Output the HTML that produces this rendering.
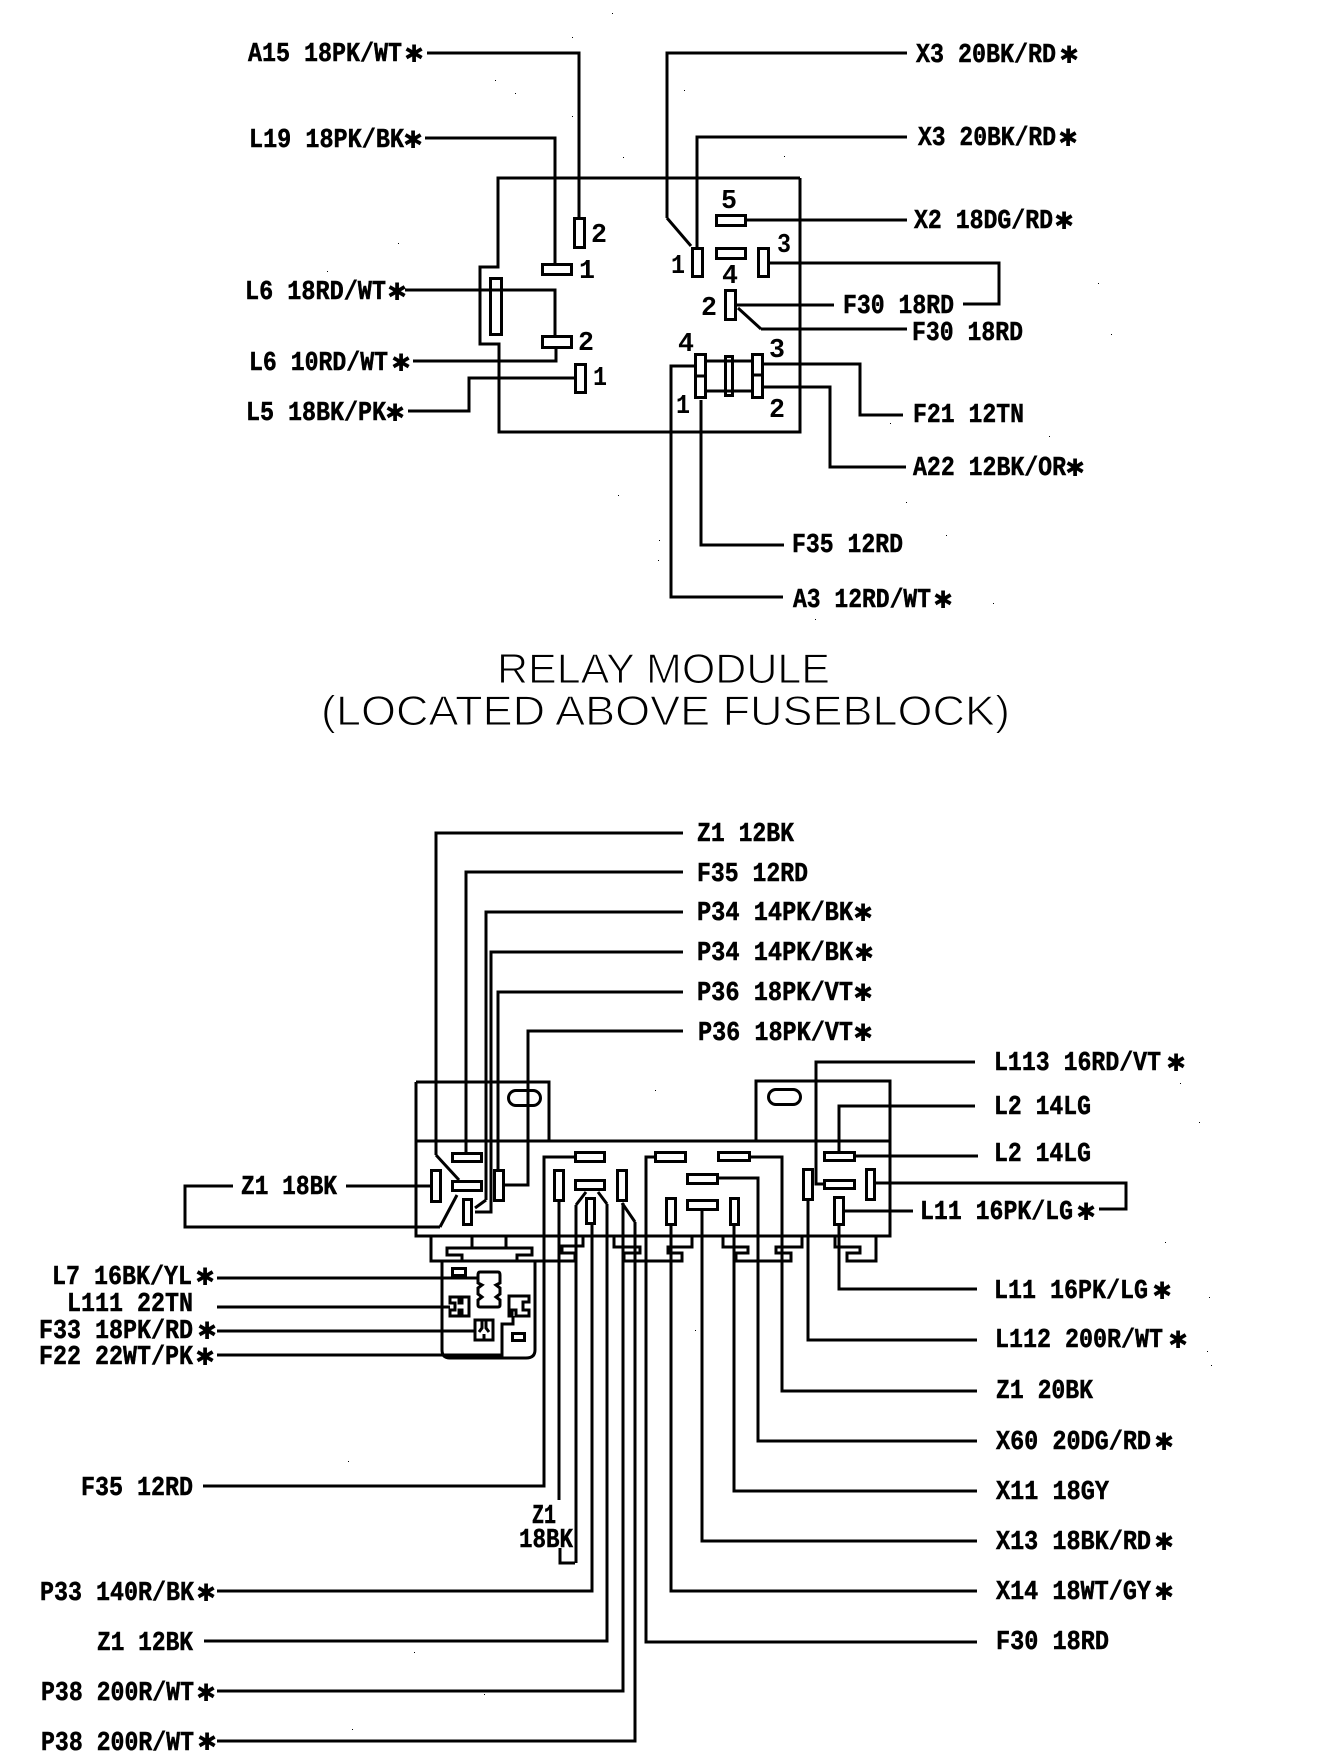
<!DOCTYPE html>
<html><head><meta charset="utf-8"><title>Relay Module</title>
<style>
html,body{margin:0;padding:0;background:#fff}
svg{display:block}
.w{fill:none;stroke:#000;stroke-width:3;stroke-linejoin:miter}
.t{font-family:"Liberation Mono",monospace;font-weight:700;font-size:27px;fill:#000;stroke:#000;stroke-width:.5}
.s{font-family:"DejaVu Sans",sans-serif;font-weight:700;font-size:24px;fill:#000}
.n{font-family:"Liberation Mono",monospace;font-weight:700;font-size:27px;fill:#000}
.h{font-family:"Liberation Sans",sans-serif;font-size:42px;fill:#000;stroke:#fff;stroke-width:1.1}
</style></head><body>
<svg xmlns="http://www.w3.org/2000/svg" width="1344" height="1758" viewBox="0 0 1344 1758">
<rect width="1344" height="1758" fill="#fff"/>
<g class="w" shape-rendering="crispEdges">
<!-- top module -->
<path d="M800 178H498V267H480V344H499V432H800V178"/>
<path d="M427 53H579V217M425 138H555V263M907 53H667V218M907 137H697V247M747 220H907M770 263H999V304H963M737 305H834M761 329H907M405 290H555V335M556 349V361H413M574 378H469V411H408"/>
<path d="M764 364H860V415H903M764 387H830V467H906M701 400V545H784M694 366H671V597H783M707 361H751M707 391H751"/>
<rect x="574.500" y="218.500" width="10" height="29"/>
<rect x="542.500" y="264.500" width="29" height="10"/>
<rect x="490.500" y="278.500" width="11" height="56"/>
<rect x="542.500" y="336.500" width="29" height="11"/>
<rect x="575.500" y="364.500" width="10" height="28"/>
<rect x="692.500" y="248.500" width="10" height="28"/>
<rect x="716.500" y="215.500" width="29" height="10"/>
<rect x="716.500" y="248.500" width="29" height="10"/>
<rect x="758.500" y="248.500" width="10" height="28"/>
<rect x="725.500" y="290.500" width="10" height="29"/>
<rect x="695.500" y="354.500" width="10" height="43"/>
<path d="M695 376H706"/>
<rect x="725.500" y="356.500" width="7" height="39"/>
<rect x="752.500" y="354.500" width="10" height="43"/>
<path d="M752 375H763"/>
<!-- lower block -->
<path d="M416 1082H549V1141M416 1082V1236H890V1081H756V1141M416 1141H890"/>
<path d="M683 833H436V1155M683 872H466V1152M683 912H486V1200M683 952H491V1212H475M683 992H498V1169M683 1031H528V1185H505"/>
<path d="M346 1186H430M233 1186H185V1227H440M203 1486H544V1157H574M217 1591H592V1225M204 1641H607V1204M217 1691H623V1203M217 1741H635V1222M977 1642H646V1157H654M575 1563H560V1548M576 1563V1205M559 1202V1500"/>
<path d="M671 1226V1591H977M702 1211V1541H977M734 1226V1491H977M719 1178H758V1441H977M751 1157H782V1391H977M808 1201V1340H977M839 1226V1289H977M839 1151V1106H975M856 1156H978M823 1184H816V1062H975M876 1183H1126V1209H1099M845 1211H913"/>
<path d="M217 1278H477M217 1307H450M217 1331H475M217 1355H502V1324H513V1316"/>
<path d="M431 1237V1261H575V1253H562V1246H583V1237M614 1237V1247H640V1253H624V1261H682V1253H668V1247H692V1237M723 1237V1247H748V1253H736V1261H791V1253H776V1247H802V1237M835 1237V1247H860V1253H847V1261H876V1236"/>
<path d="M462 1261V1255H447V1248H532V1255H517V1261M472 1237V1248M506 1237V1248"/>
<rect x="452.500" y="1153.500" width="29" height="8"/>
<rect x="452.500" y="1181.500" width="29" height="9"/>
<rect x="431.500" y="1170.500" width="9" height="31"/>
<rect x="494.500" y="1170.500" width="9" height="30"/>
<rect x="463.500" y="1199.500" width="8" height="25"/>
<rect x="575.500" y="1152.500" width="29" height="9"/>
<rect x="554.500" y="1170.500" width="9" height="30"/>
<rect x="575.500" y="1180.500" width="29" height="9"/>
<rect x="586.500" y="1198.500" width="8" height="25"/>
<rect x="617.500" y="1170.500" width="9" height="30"/>
<rect x="655.500" y="1152.500" width="30" height="9"/>
<rect x="666.500" y="1198.500" width="9" height="26"/>
<rect x="718.500" y="1152.500" width="31" height="8"/>
<rect x="687.500" y="1174.500" width="30" height="9"/>
<rect x="687.500" y="1200.500" width="30" height="9"/>
<rect x="730.500" y="1198.500" width="8" height="26"/>
<rect x="803.500" y="1169.500" width="9" height="30"/>
<rect x="824.500" y="1152.500" width="30" height="8"/>
<rect x="824.500" y="1180.500" width="30" height="8"/>
<rect x="866.500" y="1169.500" width="8" height="30"/>
<rect x="834.500" y="1197.500" width="9" height="27"/>
<rect x="452.500" y="1268.500" width="13" height="7"/>
<rect x="512.500" y="1333.500" width="12" height="7"/>
</g>
<g class="w">
<path d="M667 218L691 246M738 308L761 329"/>
<path d="M436 1155L459 1180M486 1200L475 1208M440 1227L457 1195M607 1204L598 1192M635 1222L622 1203M576 1205L586 1192"/>
<path d="M442 1261V1350Q442 1358 450 1358H526Q535 1358 535 1350V1261"/>
<rect x="508.500" y="1090.500" width="32" height="15" rx="7.500"/>
<rect x="768.500" y="1089.500" width="32" height="15" rx="7.500"/>
<path d="M480 1272H498Q500 1272 500 1275V1283L496 1285L500 1288V1294L496 1297L500 1300V1305Q500 1307 498 1307H480Q478 1307 478 1305V1300L482 1297L478 1294V1288L482 1285L478 1283V1275Q478 1272 480 1272Z"/>
<path d="M450 1297H469V1316H450V1310H455V1303H450Z"/>
<path d="M459 1297V1303H462V1297M459 1316V1310H462V1316"/>
<path d="M475 1320H493V1340H475ZM482 1320V1328L479 1332M486 1320V1328L489 1332M484 1340V1334"/>
<path d="M509 1296H529V1302H523V1310H529V1316H516V1310H512V1316H509Z"/>
</g>
<!-- labels -->
<g class="t" transform="translate(0,-1)">
<text x="248" y="62" textLength="154" lengthAdjust="spacingAndGlyphs">A15 18PK/WT</text>
<text x="249" y="148" textLength="155" lengthAdjust="spacingAndGlyphs">L19 18PK/BK</text>
<text x="245" y="300" textLength="141" lengthAdjust="spacingAndGlyphs">L6 18RD/WT</text>
<text x="249" y="371" textLength="139" lengthAdjust="spacingAndGlyphs">L6 10RD/WT</text>
<text x="246" y="421" textLength="140" lengthAdjust="spacingAndGlyphs">L5 18BK/PK</text>
<text x="916" y="63" textLength="140" lengthAdjust="spacingAndGlyphs">X3 20BK/RD</text>
<text x="918" y="146" textLength="138" lengthAdjust="spacingAndGlyphs">X3 20BK/RD</text>
<text x="914" y="229" textLength="139" lengthAdjust="spacingAndGlyphs">X2 18DG/RD</text>
<text x="843" y="314" textLength="111" lengthAdjust="spacingAndGlyphs">F30 18RD</text>
<text x="912" y="341" textLength="111" lengthAdjust="spacingAndGlyphs">F30 18RD</text>
<text x="913" y="423" textLength="111" lengthAdjust="spacingAndGlyphs">F21 12TN</text>
<text x="913" y="476" textLength="153" lengthAdjust="spacingAndGlyphs">A22 12BK/OR</text>
<text x="792" y="553" textLength="111" lengthAdjust="spacingAndGlyphs">F35 12RD</text>
<text x="793" y="608" textLength="138" lengthAdjust="spacingAndGlyphs">A3 12RD/WT</text>
<text x="697" y="842" textLength="97" lengthAdjust="spacingAndGlyphs">Z1 12BK</text>
<text x="697" y="882" textLength="111" lengthAdjust="spacingAndGlyphs">F35 12RD</text>
<text x="697" y="921" textLength="156" lengthAdjust="spacingAndGlyphs">P34 14PK/BK</text>
<text x="697" y="961" textLength="156" lengthAdjust="spacingAndGlyphs">P34 14PK/BK</text>
<text x="697" y="1001" textLength="156" lengthAdjust="spacingAndGlyphs">P36 18PK/VT</text>
<text x="698" y="1041" textLength="155" lengthAdjust="spacingAndGlyphs">P36 18PK/VT</text>
<text x="994" y="1071" textLength="167" lengthAdjust="spacingAndGlyphs">L113 16RD/VT</text>
<text x="994" y="1115" textLength="97" lengthAdjust="spacingAndGlyphs">L2 14LG</text>
<text x="994" y="1162" textLength="97" lengthAdjust="spacingAndGlyphs">L2 14LG</text>
<text x="920" y="1220" textLength="153" lengthAdjust="spacingAndGlyphs">L11 16PK/LG</text>
<text x="994" y="1299" textLength="154" lengthAdjust="spacingAndGlyphs">L11 16PK/LG</text>
<text x="995" y="1348" textLength="168" lengthAdjust="spacingAndGlyphs">L112 200R/WT</text>
<text x="996" y="1399" textLength="97" lengthAdjust="spacingAndGlyphs">Z1 20BK</text>
<text x="996" y="1450" textLength="155" lengthAdjust="spacingAndGlyphs">X60 20DG/RD</text>
<text x="996" y="1500" textLength="113" lengthAdjust="spacingAndGlyphs">X11 18GY</text>
<text x="996" y="1550" textLength="155" lengthAdjust="spacingAndGlyphs">X13 18BK/RD</text>
<text x="996" y="1600" textLength="155" lengthAdjust="spacingAndGlyphs">X14 18WT/GY</text>
<text x="996" y="1650" textLength="113" lengthAdjust="spacingAndGlyphs">F30 18RD</text>
<text x="241" y="1195" textLength="96" lengthAdjust="spacingAndGlyphs">Z1 18BK</text>
<text x="52" y="1285" textLength="140" lengthAdjust="spacingAndGlyphs">L7 16BK/YL</text>
<text x="67" y="1312" textLength="126" lengthAdjust="spacingAndGlyphs">L111 22TN</text>
<text x="39" y="1339" textLength="154" lengthAdjust="spacingAndGlyphs">F33 18PK/RD</text>
<text x="39" y="1365" textLength="154" lengthAdjust="spacingAndGlyphs">F22 22WT/PK</text>
<text x="81" y="1496" textLength="112" lengthAdjust="spacingAndGlyphs">F35 12RD</text>
<text x="40" y="1601" textLength="154" lengthAdjust="spacingAndGlyphs">P33 140R/BK</text>
<text x="97" y="1651" textLength="96" lengthAdjust="spacingAndGlyphs">Z1 12BK</text>
<text x="41" y="1701" textLength="153" lengthAdjust="spacingAndGlyphs">P38 200R/WT</text>
<text x="41" y="1751" textLength="153" lengthAdjust="spacingAndGlyphs">P38 200R/WT</text>
<text x="532" y="1524" textLength="24" lengthAdjust="spacingAndGlyphs">Z1</text>
<text x="519" y="1548" textLength="54" lengthAdjust="spacingAndGlyphs">18BK</text>
</g>
<g class="s" transform="translate(-1,1)">
<text x="405" y="61">✱</text><text x="404" y="147">✱</text><text x="388" y="299">✱</text><text x="392" y="370">✱</text><text x="386" y="420">✱</text>
<text x="1060" y="62">✱</text><text x="1059" y="145">✱</text><text x="1055" y="228">✱</text><text x="1066" y="475">✱</text><text x="934" y="607">✱</text>
<text x="854" y="920">✱</text><text x="855" y="960">✱</text><text x="854" y="1000">✱</text><text x="854" y="1040">✱</text>
<text x="1167" y="1070">✱</text><text x="1077" y="1219">✱</text><text x="1153" y="1298">✱</text><text x="1169" y="1347">✱</text>
<text x="1155" y="1449">✱</text><text x="1155" y="1549">✱</text><text x="1155" y="1599">✱</text>
<text x="196" y="1284">✱</text><text x="198" y="1338">✱</text><text x="196" y="1364">✱</text><text x="197" y="1600">✱</text><text x="197" y="1700">✱</text><text x="198" y="1749">✱</text>
</g>
<g class="n">
<text x="591" y="242" textLength="16" lengthAdjust="spacingAndGlyphs">2</text>
<text x="579" y="278" textLength="16" lengthAdjust="spacingAndGlyphs">1</text>
<text x="578" y="350" textLength="16" lengthAdjust="spacingAndGlyphs">2</text>
<text x="593" y="385" textLength="14" lengthAdjust="spacingAndGlyphs">1</text>
<text x="671" y="273" textLength="14" lengthAdjust="spacingAndGlyphs">1</text>
<text x="721" y="208" textLength="16" lengthAdjust="spacingAndGlyphs">5</text>
<text x="777" y="252" textLength="14" lengthAdjust="spacingAndGlyphs">3</text>
<text x="722" y="283" textLength="16" lengthAdjust="spacingAndGlyphs">4</text>
<text x="701" y="315" textLength="16" lengthAdjust="spacingAndGlyphs">2</text>
<text x="678" y="351" textLength="16" lengthAdjust="spacingAndGlyphs">4</text>
<text x="676" y="413" textLength="14" lengthAdjust="spacingAndGlyphs">1</text>
<text x="769" y="357" textLength="16" lengthAdjust="spacingAndGlyphs">3</text>
<text x="769" y="417" textLength="16" lengthAdjust="spacingAndGlyphs">2</text>
</g>
<text class="h" x="497" y="683" textLength="333" lengthAdjust="spacingAndGlyphs">RELAY MODULE</text>
<text class="h" x="321" y="725" textLength="689" lengthAdjust="spacingAndGlyphs">(LOCATED ABOVE FUSEBLOCK)</text>
<!-- specks -->
<g fill="#000">
<rect x="612" y="13" width="1" height="1"/><rect x="572" y="37" width="1" height="1"/><rect x="495" y="80" width="1" height="1"/><rect x="515" y="93" width="1" height="1"/><rect x="572" y="116" width="1" height="1"/><rect x="623" y="157" width="1" height="1"/><rect x="398" y="243" width="1" height="1"/><rect x="327" y="271" width="1" height="1"/><rect x="684" y="90" width="1" height="1"/><rect x="784" y="156" width="1" height="1"/><rect x="1098" y="283" width="1" height="1"/><rect x="1111" y="334" width="1" height="1"/><rect x="890" y="423" width="1" height="1"/><rect x="1049" y="436" width="1" height="1"/><rect x="618" y="495" width="1" height="1"/><rect x="906" y="502" width="1" height="1"/><rect x="659" y="540" width="1" height="1"/><rect x="658" y="560" width="1" height="1"/><rect x="946" y="535" width="1" height="1"/><rect x="993" y="603" width="1" height="1"/><rect x="815" y="619" width="1" height="1"/><rect x="348" y="1461" width="1" height="1"/><rect x="414" y="1652" width="1" height="1"/><rect x="352" y="1729" width="1" height="1"/><rect x="484" y="1694" width="1" height="1"/><rect x="1165" y="1242" width="1" height="1"/><rect x="1209" y="1297" width="1" height="1"/><rect x="1207" y="1351" width="1" height="1"/><rect x="1211" y="1365" width="1" height="1"/><rect x="1180" y="1083" width="1" height="1"/><rect x="1199" y="1122" width="1" height="1"/><rect x="655" y="1090" width="1" height="1"/><rect x="695" y="1330" width="1" height="1"/>
</g>
</svg>
</body></html>
